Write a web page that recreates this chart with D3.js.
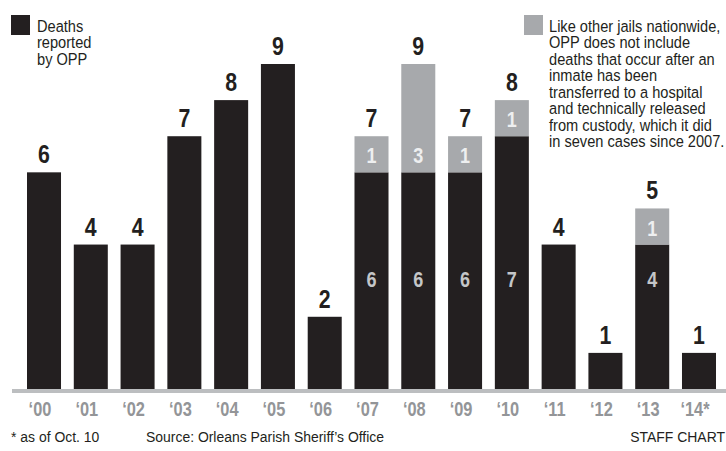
<!DOCTYPE html>
<html><head><meta charset="utf-8">
<script src="https://cdn.jsdelivr.net/npm/d3@7"></script>
<style>
html,body{margin:0;padding:0;background:#fff;}
svg{display:block;}
text{font-family:"Liberation Sans",Arimo,Arial,sans-serif;}
</style></head>
<body>
<svg id="c" width="726" height="451"></svg>
<script>
const years = ["‘00","‘01","‘02","‘03","‘04","‘05","‘06","‘07","‘08","‘09","‘10","‘11","‘12","‘13","‘14*"];
const reported = [6,4,4,7,8,9,2,6,6,6,7,4,1,4,1];
const hospital = [0,0,0,0,0,0,0,1,3,1,1,0,0,1,0];
const legendReported = ["Deaths","reported","by OPP"];
const legendHospital = ["Like other jails nationwide,","OPP does not include","deaths that occur after an","inmate has been","transferred to a hospital","and technically released","from custody, which it did","in seven cases since 2007."];
const footNote = "* as of Oct. 10";
const sourceText = "Source: Orleans Parish Sheriff’s Office";
const creditText = "STAFF CHART";

const BLACK="#231f20", GRAY="#a7a9ac", LINE="#bcbec0";
const SX = 0.82; // condensed look
const svg = d3.select("#c");
const x = d3.scaleBand().domain(years).range([27,716]).paddingInner(0.273).paddingOuter(0);
const y = d3.scaleLinear().domain([0,9]).range([389,64]);
const cx = k => x(k)+x.bandwidth()/2;

const data = years.map((k,i)=>({k, r:reported[i], h:hospital[i], t:reported[i]+hospital[i]}));

// baseline
svg.append("rect").attr("x",12).attr("y",y(0)).attr("width",714).attr("height",4).attr("fill",LINE);

const g = svg.selectAll("g.bar").data(data).join("g").attr("class","bar");
g.append("rect").attr("x",d=>x(d.k)).attr("width",x.bandwidth())
  .attr("y",d=>y(d.r)).attr("height",d=>y(0)-y(d.r)).attr("fill",BLACK);
g.filter(d=>d.h>0).append("rect").attr("x",d=>x(d.k)).attr("width",x.bandwidth())
  .attr("y",d=>y(d.t)).attr("height",d=>y(d.r)-y(d.t)).attr("fill",GRAY);

// totals
g.append("text").attr("transform",d=>`translate(${cx(d.k)},${Math.max(y(d.t)-9,52)}) scale(${SX},1)`)
  .attr("text-anchor","middle").attr("font-size",26).attr("font-weight","bold").attr("fill",BLACK).text(d=>d.t);
// inner labels for stacked bars
g.filter(d=>d.h>0).append("text").attr("transform",d=>`translate(${cx(d.k)},287) scale(${SX},1)`)
  .attr("text-anchor","middle").attr("font-size",22).attr("font-weight","bold").attr("fill","#c4c6c8").text(d=>d.r);
g.filter(d=>d.h>0).append("text").attr("transform",d=>`translate(${cx(d.k)},${y(d.r)-9}) scale(${SX},1)`)
  .attr("text-anchor","middle").attr("font-size",22).attr("font-weight","bold").attr("fill","#eeeff0").text(d=>d.h);

// x axis labels
const ax = svg.append("g").attr("transform",`translate(-4,${y(0)+4})`)
  .call(d3.axisBottom(x).tickSize(0));
ax.select(".domain").remove();
ax.selectAll(".tick text").attr("font-size",20).attr("font-weight","bold")
  .attr("fill","#939598").attr("dy",0).attr("y",0)
  .attr("transform",`translate(0,23) scale(${SX},1)`);

// legends
function multiline(lines, x0, y0, lh, size){
  svg.append("text").attr("transform",`translate(${x0},${y0}) scale(0.86,1)`).attr("font-size",size).attr("fill",BLACK)
    .selectAll("tspan").data(lines).join("tspan").attr("x",0).attr("y",(d,i)=>i*lh).text(d=>d);
}
svg.append("rect").attr("x",11).attr("y",15).attr("width",19).attr("height",20).attr("fill",BLACK);
multiline(legendReported, 37, 32, 16.5, 17);
svg.append("rect").attr("x",524).attr("y",15).attr("width",19).attr("height",20).attr("fill",GRAY);
multiline(legendHospital, 549, 32, 16.5, 17);

// footer
function foot(t, x0, size, anchor){
  svg.append("text").attr("transform",`translate(${x0},442) scale(0.93,1)`).attr("font-size",size)
    .attr("text-anchor",anchor||"start").attr("fill",BLACK).text(t);
}
foot(footNote, 11, 15);
foot(sourceText, 146, 15);
foot(creditText, 725, 15, "end");
</script>
</body></html>
